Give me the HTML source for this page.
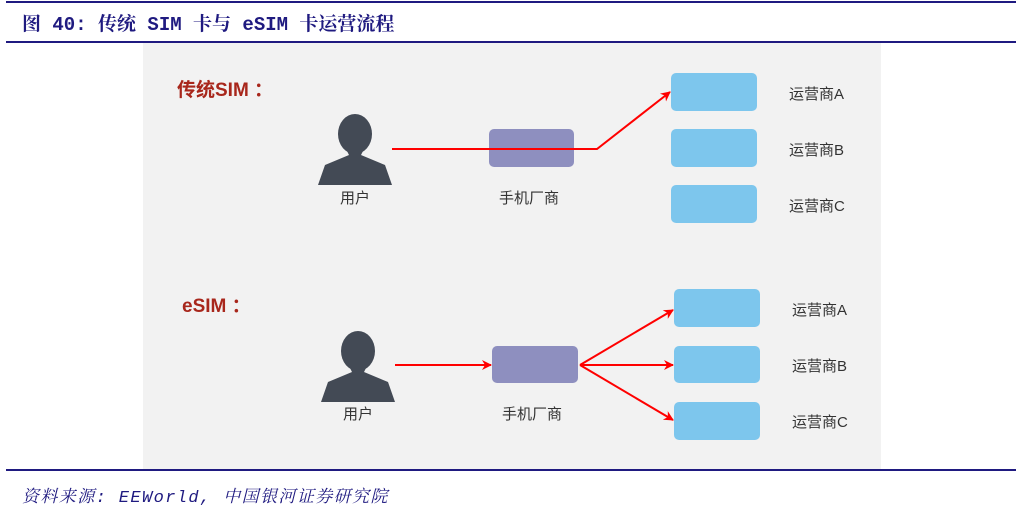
<!DOCTYPE html>
<html><head><meta charset="utf-8"><style>
body{margin:0;width:1022px;height:512px;background:#fff;overflow:hidden;position:relative;font-family:"Liberation Sans","Noto Sans CJK SC",sans-serif}
.t{position:absolute;white-space:nowrap}
</style></head><body>
<div style="position:absolute;left:6px;top:1px;width:1010px;height:2px;background:#1f1a80"></div>
<div class="t" style="left:22px;top:9px;font-family:'Liberation Mono','Noto Serif CJK SC',serif;font-size:19px;font-weight:bold;color:#1f1a80">图 40: 传统 SIM 卡与 eSIM 卡运营流程</div>
<div style="position:absolute;left:6px;top:41px;width:1010px;height:2px;background:#1f1a80"></div>
<div style="position:absolute;left:143px;top:43px;width:738px;height:426px;background:#f2f2f2"></div>
<div style="position:absolute;left:6px;top:469px;width:1010px;height:2px;background:#1f1a80"></div>
<div class="t" style="left:22px;top:482px;font-family:'Liberation Mono','Noto Serif CJK SC',serif;font-size:17px;font-style:italic;letter-spacing:1.4px;color:#1f1a80">资料来源: EEWorld, 中国银河证券研究院</div>
<svg style="position:absolute;left:0;top:0" width="1022" height="512">
<defs><marker id="a" markerWidth="10" markerHeight="10" refX="9" refY="5" orient="auto" markerUnits="userSpaceOnUse"><path d="M0,0 L10,5 L0,10 L3,5 z" fill="#f00"/></marker>
<g id="p"><ellipse cx="0" cy="19" rx="17" ry="20" fill="#434a55"/><path d="M-9,34 L-6,40 L-30,50 L-37,70 L37,70 L30,50 L6,40 L9,34 z" fill="#434a55"/></g></defs>
<g font-size="19" font-weight="bold" fill="#a8271c"><text x="177" y="96">传统SIM ：</text><text x="182" y="312">eSIM ：</text></g>
<use href="#p" x="355" y="115"/><use href="#p" x="358" y="332"/>
<g font-size="15" fill="#333"><text x="340" y="203">用户</text><text x="343" y="419">用户</text>
<text x="499" y="203">手机厂商</text><text x="502" y="419">手机厂商</text>
<text x="789" y="99">运营商A</text><text x="789" y="155">运营商B</text><text x="789" y="211">运营商C</text>
<text x="792" y="315">运营商A</text><text x="792" y="371">运营商B</text><text x="792" y="427">运营商C</text></g>
<g fill="#7dc6ed"><rect x="671" y="73" width="86" height="38" rx="5"/><rect x="671" y="129" width="86" height="38" rx="5"/><rect x="671" y="185" width="86" height="38" rx="5"/>
<rect x="674" y="289" width="86" height="38" rx="5"/><rect x="674" y="346" width="86" height="37" rx="5"/><rect x="674" y="402" width="86" height="38" rx="5"/></g>
<g fill="#8e8fbf"><rect x="489" y="129" width="85" height="38" rx="5"/><rect x="492" y="346" width="86" height="37" rx="5"/></g>
<g stroke="#f00" stroke-width="2" fill="none"><polyline points="392,149 597,149 670,92" marker-end="url(#a)"/>
<line x1="395" y1="365" x2="491" y2="365" marker-end="url(#a)"/>
<line x1="580" y1="365" x2="673" y2="310" marker-end="url(#a)"/>
<line x1="580" y1="365" x2="673" y2="365" marker-end="url(#a)"/>
<line x1="580" y1="365" x2="673" y2="420" marker-end="url(#a)"/></g>
</svg>
</body></html>
